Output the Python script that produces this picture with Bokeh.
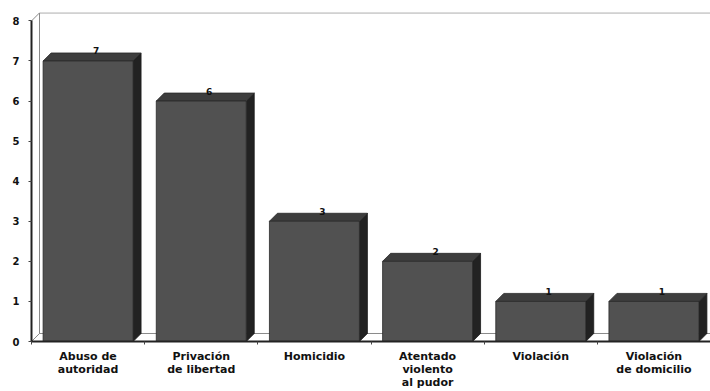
from bokeh.plotting import figure
from bokeh.models import Range1d, FixedTicker
from bokeh.embed import file_html
from bokeh.resources import INLINE
from bokeh.core.properties import value

categories = ["Abuso de\nautoridad", "Privación\nde libertad", "Homicidio",
              "Atentado\nviolento\nal pudor", "Violación", "Violación\nde domicilio"]
counts = [7, 6, 3, 2, 1, 1]
y_ticks = [0, 1, 2, 3, 4, 5, 6, 7, 8]

W = 0.795   # bar width (category units)
DX = 0.0707  # 3D depth in x (category units)
DY = 0.2     # 3D depth in y (value units)
YMAX = 8

FONT = "DejaVu Sans"

p = figure(width=710, height=391, x_range=Range1d(0, 6), y_range=Range1d(0, YMAX + DY + 0.01),
           output_backend="svg", toolbar_location=None,
           min_border_left=31, min_border_right=0, min_border_top=12, min_border_bottom=50)
p.outline_line_color = None
p.xgrid.visible = False
p.ygrid.visible = False
p.background_fill_color = "white"
p.border_fill_color = "white"

n = len(categories)
# floor
p.patch([0, n, n + DX, DX], [0, 0, DY, DY], fill_color="white", line_color="#8a8a8a", line_width=1)
# back/left wall outline
p.multi_line([[0, DX], [DX, DX], [0, DX], [DX, n + 1]],
             [[0, DY], [DY, YMAX + DY], [YMAX, YMAX + DY], [YMAX + DY, YMAX + DY]],
             line_color="#8a8a8a", line_width=1)

cx = [i + 0.5 for i in range(n)]
x0 = [c - W / 2 for c in cx]
x1 = [c + W / 2 for c in cx]

top_xs = [[a, b, b + DX, a + DX] for a, b in zip(x0, x1)]
top_ys = [[v, v, v + DY, v + DY] for v in counts]
side_xs = [[b, b + DX, b + DX, b] for b in x1]
side_ys = [[0, DY, v + DY, v] for v in counts]

p.patches(side_xs, side_ys, fill_color="#222222", line_color="#1a1a1a", line_width=0.8)
p.patches(top_xs, top_ys, fill_color="#3e3e3e", line_color="#2a2a2a", line_width=0.8)
p.quad(left=x0, right=x1, bottom=0, top=counts, fill_color="#515151", line_color="#2a2a2a", line_width=0.8)

p.text(x=[c + DX for c in cx], y=[v + DY for v in counts], text=[str(v) for v in counts],
       text_align="center", text_baseline="alphabetic", y_offset=-2,
       text_font=value(FONT), text_font_style="bold", text_font_size="9px", text_color="#111111")

# y axis
yax = p.yaxis[0]
yax.ticker = FixedTicker(ticks=y_ticks)
yax.bounds = (0, YMAX)
yax.axis_line_color = "#222222"
yax.axis_line_width = 2
yax.major_tick_out = 3
yax.major_tick_in = 0
yax.major_tick_line_color = "#444444"
yax.minor_tick_line_color = None
yax.major_label_standoff = 9
yax.major_label_text_font = FONT
yax.major_label_text_font_style = "bold"
yax.major_label_text_font_size = "10px"
yax.major_label_text_color = "#111111"

# x axis
xax = p.xaxis[0]
xax.ticker = FixedTicker(ticks=cx, minor_ticks=list(range(n + 1)))
xax.major_label_overrides = {c: lab for c, lab in zip(cx, categories)}
xax.axis_line_color = "#222222"
xax.axis_line_width = 2
xax.major_tick_line_color = None
xax.minor_tick_out = 3
xax.minor_tick_in = 0
xax.minor_tick_line_color = "#444444"
xax.major_label_standoff = 2
xax.major_label_text_font = FONT
xax.major_label_text_font_style = "bold"
xax.major_label_text_font_size = "11px"
xax.major_label_text_color = "#111111"
xax.major_label_text_line_height = 1.0

open("out.html", "w").write(file_html(p, INLINE))
